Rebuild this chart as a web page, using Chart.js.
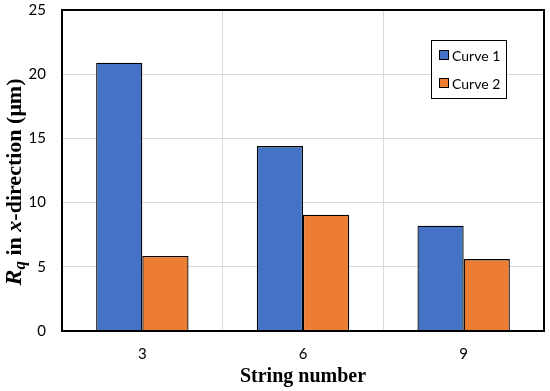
<!DOCTYPE html>
<html><head><meta charset="utf-8">
<script src="https://cdn.jsdelivr.net/npm/chart.js@4"></script>
<style>html,body{margin:0;padding:0;background:#fff}#wrap{width:550px;height:391px}</style>
</head><body><div id="wrap"><canvas id="c" width="550" height="391"></canvas></div>
<script>
const categories = ["3", "6", "9"];
const curve1 = [20.9, 14.4, 8.2];
const curve2 = [5.85, 9.05, 5.6];
const seriesLabels = ["Curve 1", "Curve 2"];
const yTicks = [0, 5, 10, 15, 20, 25];
const xTitle = "String number";

const frame = {
  id: 'frame',
  afterDraw(chart) {
    const ctx = chart.ctx, a = chart.chartArea;
    ctx.save();
    ctx.strokeStyle = '#000'; ctx.lineWidth = 2;
    ctx.strokeRect(a.left, a.top, a.right - a.left, a.bottom - a.top);
    // legend
    const lx = 431, ly = 40, lw = 75, lh = 58;
    ctx.fillStyle = '#fff'; ctx.fillRect(lx, ly, lw, lh);
    ctx.lineWidth = 1; ctx.strokeRect(lx + 0.5, ly + 0.5, lw, lh);
    chart.data.datasets.forEach((ds, i) => {
      const cy = 55 + i * 28;
      ctx.fillStyle = ds.backgroundColor; ctx.fillRect(439.5, cy - 4.5, 9, 9);
      ctx.strokeStyle = '#000'; ctx.strokeRect(439.5, cy - 4.5, 9, 9);
      ctx.fillStyle = '#000'; ctx.font = '14px Lato'; ctx.textBaseline = 'middle'; ctx.textAlign = 'left';
      ctx.fillText(ds.label, 452, cy + 1);
    });
    // x title
    ctx.font = 'bold 20px "Liberation Serif"'; ctx.textAlign = 'center'; ctx.textBaseline = 'middle';
    ctx.fillText(xTitle, (a.left + a.right) / 2, 377);
    // y title rich text
    const parts = [
      {t: 'R', f: 'italic bold 24px "Liberation Serif"', dy: 0},
      {t: 'q', f: 'italic bold 17px "Liberation Serif"', dy: 6},
      {t: ' in ', f: 'bold 22px "Liberation Serif"', dy: 0},
      {t: 'x', f: 'italic bold 22px "Liberation Serif"', dy: 0},
      {t: '-direction (μm)', f: 'bold 22px "Liberation Serif"', dy: 0}
    ];
    let total = 0;
    parts.forEach(p => { ctx.font = p.f; p.w = ctx.measureText(p.t).width; total += p.w; });
    ctx.translate(15, 182); ctx.rotate(-Math.PI / 2);
    ctx.textAlign = 'left'; ctx.textBaseline = 'middle';
    let x = -total / 2;
    parts.forEach(p => { ctx.font = p.f; ctx.fillText(p.t, x, p.dy); x += p.w; });
    ctx.restore();
  }
};

new Chart(document.getElementById('c'), {
  type: 'bar',
  data: {
    labels: categories,
    datasets: [
      {label: seriesLabels[0], data: curve1, backgroundColor: '#4472C4', borderColor: '#000', borderWidth: 1.3},
      {label: seriesLabels[1], data: curve2, backgroundColor: '#ED7D31', borderColor: '#000', borderWidth: 1.3}
    ]
  },
  options: {
    responsive: false, animation: false,
    layout: {padding: {top: 10, right: 6, left: 0, bottom: 0}},
    plugins: {legend: {display: false}, tooltip: {enabled: false}},
    datasets: {bar: {categoryPercentage: 0.575, barPercentage: 1}},
    scales: {
      x: {
        grid: {color: '#d9d9d9', lineWidth: 1, offset: true, drawTicks: false},
        border: {display: false},
        ticks: {color: '#000', font: {family: 'Lato', size: 15}, padding: 14},
        afterFit(s) { s.height = 60; s.paddingLeft = 0; s.paddingRight = 0; }
      },
      y: {
        min: 0, max: 25,
        afterBuildTicks(s) { s.ticks = yTicks.map(v => ({value: v})); },
        grid: {color: '#d9d9d9', lineWidth: 1, drawTicks: false},
        border: {display: false},
        ticks: {color: '#000', font: {family: 'Lato', size: 15}, padding: 16},
        afterFit(s) { s.width = 62; s.paddingTop = 0; s.paddingBottom = 0; }
      }
    }
  },
  plugins: [frame]
});
</script></body></html>
